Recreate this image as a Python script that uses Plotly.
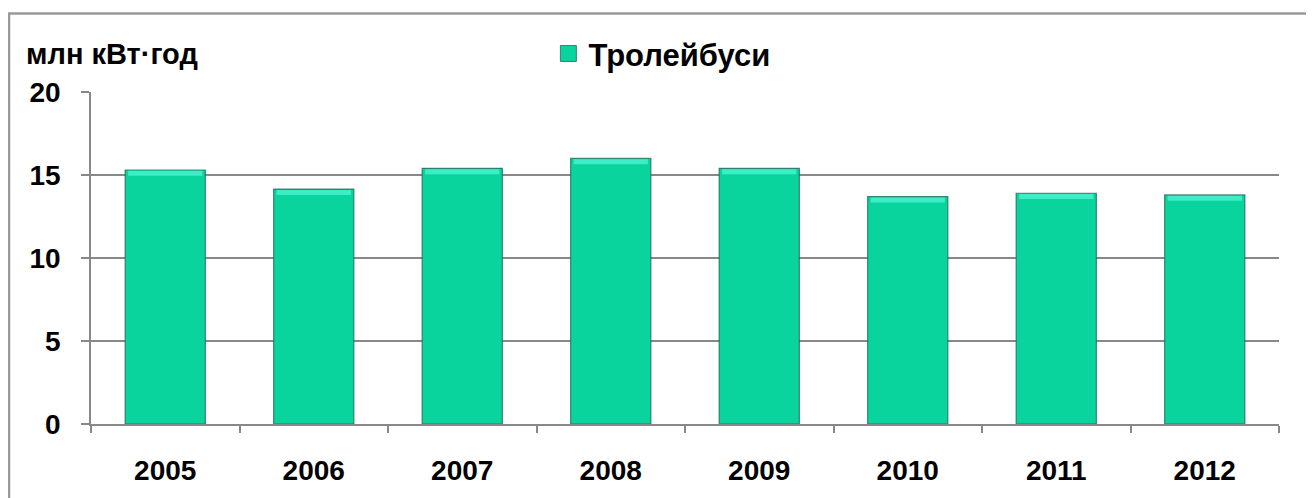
import plotly.graph_objects as go

years = ["2005", "2006", "2007", "2008", "2009", "2010", "2011", "2012"]
values = [15.3, 14.15, 15.4, 16.0, 15.4, 13.7, 13.9, 13.8]
y_ticks = [0, 5, 10, 15, 20]
series_name = "Тролейбуси"
y_title = "млн кВт·год"

font_family = "Liberation Sans, Arial, sans-serif"
bar_color = "#0AD49E"
bar_edge = "rgba(30,100,80,0.75)"

fig = go.Figure()
fig.add_trace(go.Bar(
    x=years, y=values, name=series_name, showlegend=False,
    marker=dict(color=bar_color, line=dict(color=bar_edge, width=1.2)),
    width=0.54,
))
# subtle highlight on bar tops (derived from values)
hl = 0.3
fig.add_trace(go.Bar(
    x=years, y=[hl] * len(values), base=[v - hl - 0.05 for v in values],
    marker=dict(color="rgba(80,245,210,0.75)", line=dict(width=0)),
    width=0.50, showlegend=False, hoverinfo="skip",
))
# legend entry with a larger square marker
fig.add_trace(go.Scatter(
    x=[None], y=[None], mode="markers", name=series_name,
    marker=dict(symbol="square", size=22, color=bar_color, line=dict(color=bar_edge, width=1)),
))

fig.update_layout(
    width=1306, height=490,
    margin=dict(l=83, r=35, t=84, b=68),
    paper_bgcolor="white", plot_bgcolor="white",
    barmode="overlay",
    font=dict(family=font_family, color="black", size=20, weight="bold"),
    showlegend=True,
    legend=dict(x=0.385, y=1.115, xanchor="left", yanchor="middle",
                font=dict(size=31, family=font_family, color="black", weight="bold"),
                bgcolor="rgba(0,0,0,0)", itemwidth=30, itemsizing="trace"),
    xaxis=dict(
        type="category", showgrid=False, showline=True, linecolor="#888888", linewidth=1.5,
        ticks="outside", ticklen=7, tickcolor="#888888", tickwidth=1.5,
        tickson="boundaries", tickfont=dict(size=28, family=font_family, weight="bold"),
        ticklabelstandoff=21,
    ),
    yaxis=dict(
        range=[0, 20], tickvals=y_ticks, showgrid=True, gridcolor="#888888", gridwidth=1.5,
        showline=True, linecolor="#888888", linewidth=1.5,
        ticks="outside", ticklen=8, tickcolor="#888888", tickwidth=1.5,
        tickfont=dict(size=28, family=font_family, weight="bold"), ticklabelstandoff=15,
        zeroline=False,
    ),
    annotations=[dict(
        text=y_title, xref="paper", yref="paper",
        x=-0.056, y=1.115, xanchor="left", yanchor="middle", showarrow=False,
        font=dict(size=29, family=font_family, color="black", weight="bold"),
    )],
    shapes=[dict(type="rect", xref="paper", yref="paper",
                 x0=-0.069, x1=1.0253, y0=-0.3, y1=1.2367,
                 line=dict(color="#999999", width=2.5), layer="below")],
)

fig.write_html("out.html")
